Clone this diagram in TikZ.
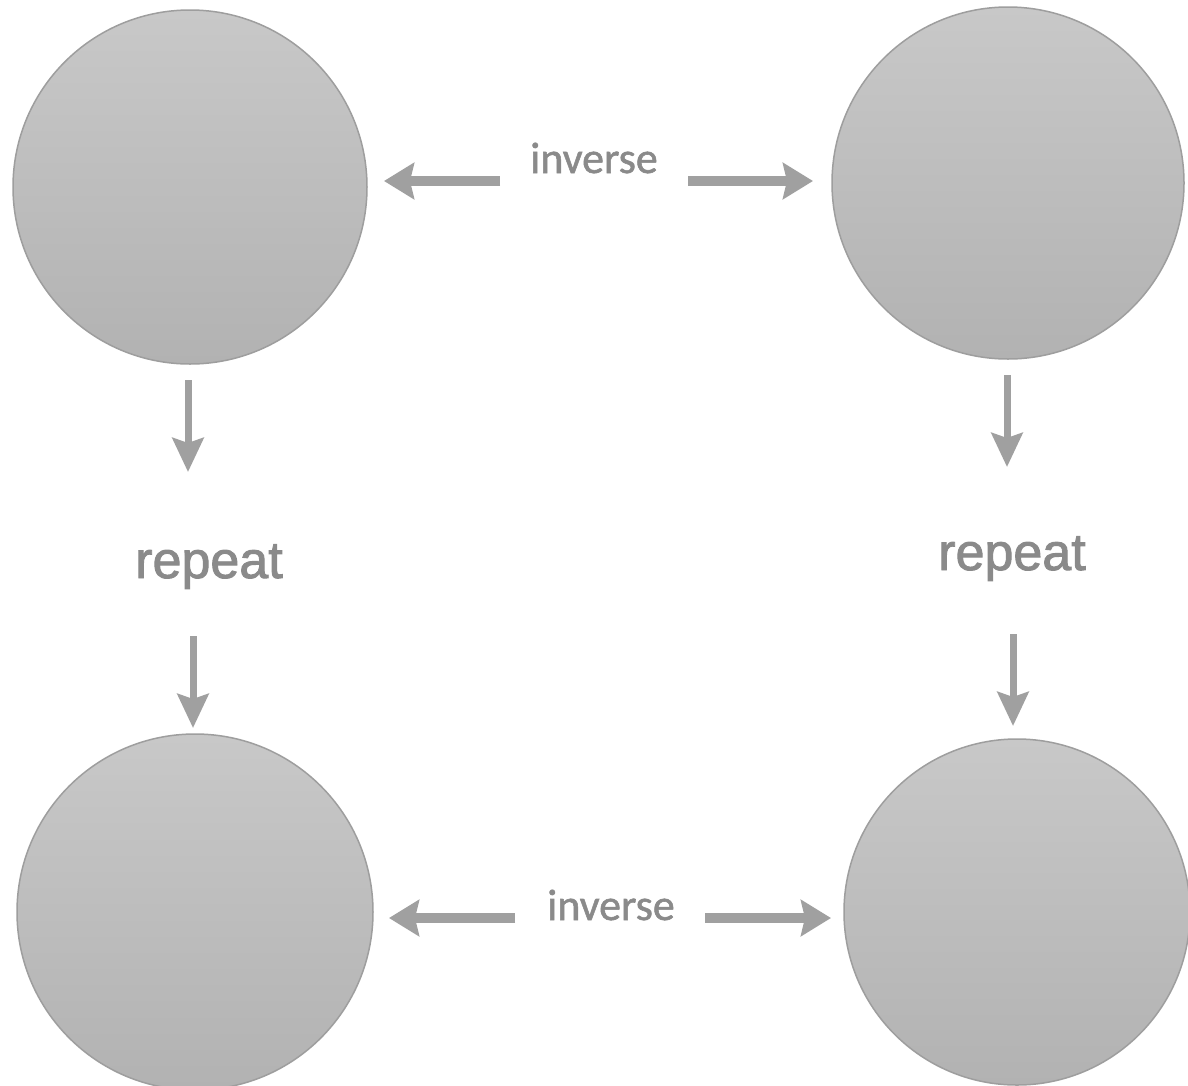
\documentclass[tikz,border=0pt]{standalone}
\usepackage{fontspec}
\newfontfamily\invfont[FakeBold=1.2]{Carlito}
\newfontfamily\repfont[FakeBold=1.8]{Liberation Sans}
\usetikzlibrary{arrows.meta}
\definecolor{circtop}{RGB}{200,200,200}
\definecolor{circbot}{RGB}{178,178,178}
\definecolor{circedge}{RGB}{158,158,158}
\definecolor{arrgray}{RGB}{160,160,160}
\definecolor{txtgray}{RGB}{138,138,138}
\tikzset{
  ball/.style={circle, inner sep=0pt, minimum size=#1, shading=axis,
    top color=circtop, bottom color=circbot, draw=circedge, line width=1.5pt},
  harr/.style={draw=arrgray, line width=10pt,
    -{Stealth[length=30pt,width=36pt,inset=4pt]}},
  varr/.style={draw=arrgray, line width=7pt,
    -{Stealth[length=34pt,width=31pt,inset=5pt]}},
  invlabel/.style={text=txtgray, font=\invfont\fontsize{44}{48}\selectfont, anchor=base, inner sep=0pt},
  replabel/.style={text=txtgray, font=\repfont\fontsize{52}{56}\selectfont, anchor=base, inner sep=0pt}
}
\begin{document}
\begin{tikzpicture}[x=1pt,y=-1pt]
\useasboundingbox[fill=white] (0,0) rectangle (1188,1085);
% circles
\node[ball=354pt] (tl) at (190,187) {};
\node[ball=352pt] (tr) at (1008,183) {};
\node[ball=356pt] (bl) at (195,912) {};
\node[ball=346pt] (br) at (1017,912) {};
% labels
\node[invlabel] (inv1) at (594,173) {inverse};
\node[invlabel] (inv2) at (611,920) {inverse};
\node[replabel] (rep1) at (209,578) {repeat};
\node[replabel] (rep2) at (1012,570) {repeat};
% arrow end coordinates
\coordinate (a1s) at (500,181); \coordinate (a1e) at (384,181);
\coordinate (a2s) at (688,181); \coordinate (a2e) at (813,181);
\coordinate (b1s) at (515,918); \coordinate (b1e) at (389,918);
\coordinate (b2s) at (705,918); \coordinate (b2e) at (831,918);
\coordinate (v1s) at (188,380); \coordinate (v1e) at (188,472);
\coordinate (v2s) at (193,636); \coordinate (v2e) at (193,728);
\coordinate (w1s) at (1007,375); \coordinate (w1e) at (1007,467);
\coordinate (w2s) at (1013,634); \coordinate (w2e) at (1013,726);
% arrows
\draw[harr] (a1s) -- (a1e);
\draw[harr] (a2s) -- (a2e);
\draw[harr] (b1s) -- (b1e);
\draw[harr] (b2s) -- (b2e);
\draw[varr] (v1s) -- (v1e);
\draw[varr] (v2s) -- (v2e);
\draw[varr] (w1s) -- (w1e);
\draw[varr] (w2s) -- (w2e);
\end{tikzpicture}
\end{document}
